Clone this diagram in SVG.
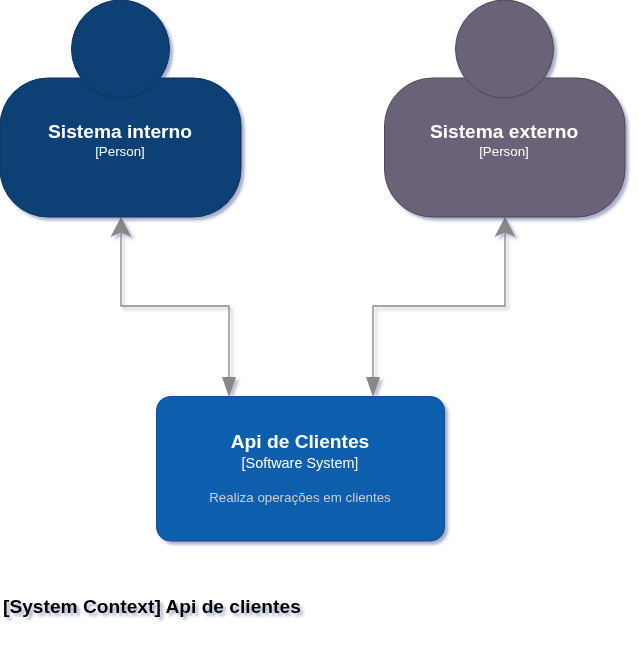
<svg xmlns="http://www.w3.org/2000/svg" width="639" height="651" viewBox="0 0 639 651">
<style>
text{font-family:"Liberation Sans",Arial,sans-serif;text-anchor:middle;fill:#fff}
.t{font-size:19.2px;font-weight:bold}
.s{font-size:13.33px}
.w{font-size:14.4px}
.d{font-size:13.33px;fill:#cccccc}
.sh{filter:url(#shadow)}
.in{fill:#0b4075;stroke:#08315a}
.ex{fill:#6b6477;stroke:#4d4757}
</style>
<defs>
<filter id="shadow" x="-20%" y="-20%" width="150%" height="150%" filterUnits="objectBoundingBox">
<feGaussianBlur in="SourceAlpha" stdDeviation="1.7" result="b"/>
<feOffset in="b" dx="3" dy="3" result="o"/>
<feFlood flood-color="#3b4a80" flood-opacity="0.45"/>
<feComposite in2="o" operator="in" result="c"/>
<feMerge><feMergeNode in="c"/><feMergeNode in="SourceGraphic"/></feMerge>
</filter>
<filter id="cshadow" x="-30" y="200" width="700" height="220" filterUnits="userSpaceOnUse">
<feGaussianBlur in="SourceAlpha" stdDeviation="1.7" result="b"/>
<feOffset in="b" dx="3" dy="3" result="o"/>
<feFlood flood-color="#3b4a80" flood-opacity="0.35"/>
<feComposite in2="o" operator="in" result="c"/>
<feMerge><feMergeNode in="c"/><feMergeNode in="SourceGraphic"/></feMerge>
</filter>
</defs>
<g id="connectors" filter="url(#cshadow)">
<path d="M121 232V306H229V382" fill="none" stroke="#888888" stroke-width="1.33"/>
<path d="M121 217L131.500 237L121 232.500L110.500 237Z" fill="#888888"/>
<path d="M229 397L222 377L229 377L236 377Z" fill="#888888"/>
<path d="M505 232V306H373V382" fill="none" stroke="#888888" stroke-width="1.33"/>
<path d="M505 217L515.500 237L505 232.500L494.500 237Z" fill="#888888"/>
<path d="M373 397L366 377L373 377L380 377Z" fill="#888888"/>
</g>
<g id="sistema-interno" class="sh">
<rect class="in" x="0" y="78" width="241" height="139" rx="48" ry="48"/>
<circle class="in" cx="120.500" cy="49" r="49"/>
<text class="t" x="120" y="138">Sistema interno</text>
<text class="s" x="120" y="156">[Person]</text>
</g>
<g id="sistema-externo" class="sh">
<rect class="ex" x="384.500" y="78" width="240.500" height="139" rx="48" ry="48"/>
<circle class="ex" cx="504.500" cy="49" r="49"/>
<text class="t" x="504" y="138">Sistema externo</text>
<text class="s" x="504" y="156">[Person]</text>
</g>
<g id="api-de-clientes" class="sh">
<rect x="156.500" y="396.500" width="288" height="144.500" rx="14" ry="14" fill="#0c5fae" stroke="#0b4f92"/>
<text class="t" x="300" y="448">Api de Clientes</text>
<text class="w" x="300" y="468">[Software System]</text>
<text class="d" x="300" y="501.500">Realiza operações em clientes</text>
</g>
<g id="title" class="sh">
<text x="3" y="613" style="font-size:19.2px;font-weight:bold;fill:#000;text-anchor:start">[System Context] Api de clientes</text>
</g>
</svg>
